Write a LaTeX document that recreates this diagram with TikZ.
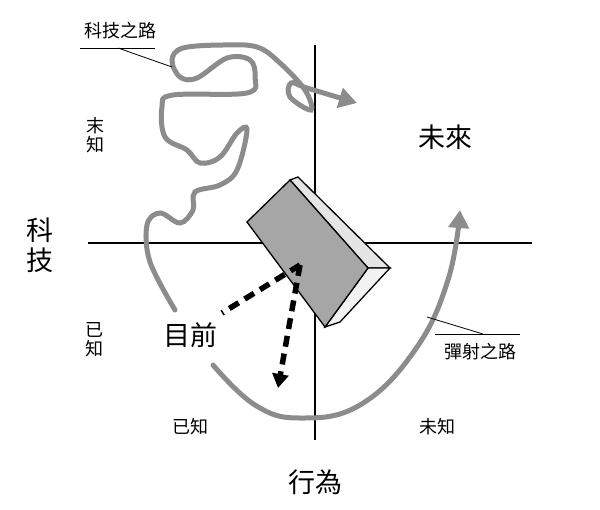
\documentclass[tikz,border=0pt]{standalone}
\usepackage{fontspec}
\setmainfont{Noto Sans CJK TC}
\usetikzlibrary{positioning,arrows.meta}
\tikzset{
    x=1pt, y=-1pt,
    axis/.style = {line width=1.5pt},
    road/.style = {draw=black!45, line width=5pt, line cap=round},
    pointer/.style = {line width=0.8pt},
    bigtext/.style = {font=\fontsize{27}{30}\selectfont},
    smalltext/.style = {font=\fontsize{18}{19}\selectfont, align=center},
    dashline/.style = {line width=5.5pt, dash pattern=on 11pt off 7pt},
}
\begin{document}
\begin{tikzpicture}
    \useasboundingbox (0,0) rectangle (600,509);

    % axes
    \coordinate (vtop) at (315,45);
    \coordinate (vbot) at (315,440);
    \coordinate (hleft) at (88,243);
    \coordinate (hright) at (532,243);
    \draw[axis] (vtop) -- (vbot);
    \draw[axis] (hleft) -- (hright);

    % technology road
    \draw[road, -{Triangle[length=18pt,width=20pt]}] plot[smooth, tension=0.6] coordinates {
        (175,310) (150,262) (147,225) (160,213) (180,223) (193,210) (195,192)
        (220,185) (237,170) (247,130) (237,133) (220,157) (200,163) (187,150)
        (165,137) (162,107) (173,95) (247,93) (255,77) (250,60) (227,58)
        (197,78) (180,77) (172,60) (183,48) (223,45) (257,47) (280,63)
        (305,90) (311,110) (290,97) (291,83) (307,88) (357,103)};

    % ballistic road
    \draw[road, -{Triangle[length=18pt,width=20pt]}] plot[smooth, tension=0.7] coordinates {
        (213,365) (255,405) (300,418) (360,405) (415,350) (448,280) (460,210)};

    % slab
    \fill[black!10, draw=black, line width=1.3pt] (290,180) -- (298,177) -- (390,268) -- (368,268) -- cycle;
    \fill[black!5, draw=black, line width=1.3pt] (368,268) -- (390,268) -- (340,322) -- (325,327) -- cycle;
    \fill[black!35, draw=black, line width=1.3pt] (290,180) -- (247,222) -- (325,327) -- (368,268) -- cycle;

    % present
    \coordinate (now) at (300,265);
    \coordinate (nowleft) at (222,313);
    \coordinate (nowdown) at (278,388);
    \draw[dashline] (now) -- (nowleft);
    \draw[dashline, -{Triangle[length=14pt,width=16pt]}] (now) -- (nowdown);

    % labels
    \node[bigtext, align=center] (tech) at (40,245) {科\\技};
    \node[bigtext] (future) at (445,137) {未來};
    \node[bigtext] (present) at (190,335) {目前};
    \node[bigtext] (action) at (315,482) {行為};
    \node[smalltext] (unknownup) at (95,135) {末\\知};
    \node[smalltext] (knownleft) at (94,340) {已\\知};
    \node[smalltext] (knownbot) at (190,427) {已知};
    \node[smalltext] (unknownbot) at (437,427) {未知};
    \node[smalltext] (techroad) at (120,31) {科技之路};
    \node[smalltext] (ballroad) at (480,352) {彈射之路};

    % label pointers
    \coordinate (tr1) at (80,48);
    \coordinate (tr2) at (155,48);
    \coordinate (tr3) at (118,48);
    \coordinate (tr4) at (172,67);
    \draw[pointer] (tr1) -- (tr2);
    \draw[pointer] (tr3) -- (tr4);
    \coordinate (br1) at (435,334);
    \coordinate (br2) at (520,334);
    \coordinate (br3) at (483,334);
    \coordinate (br4) at (427,317);
    \draw[pointer] (br1) -- (br2);
    \draw[pointer] (br3) -- (br4);
\end{tikzpicture}
\end{document}
